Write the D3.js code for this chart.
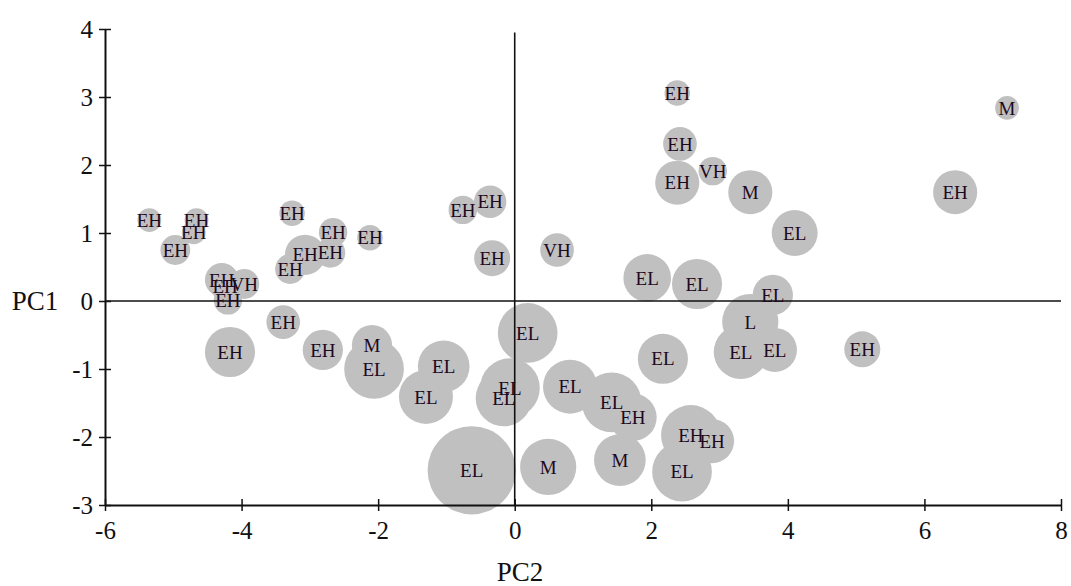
<!DOCTYPE html>
<html>
<head>
<meta charset="utf-8">
<script src="https://cdn.jsdelivr.net/npm/d3@7"></script>
<style>
  body { margin: 0; background: #fff; }
  svg text { font-family: "Liberation Serif", "Times New Roman", serif; }
</style>
</head>
<body>
<div id="chart-area"></div>
<script>
// group label of each sample
var groups = ['EH','EH','EH','EH','EH','EH','EH','EH','VH','EH',
	'EH','EH','EH','EH','EH','EH','EH','M','EL','EL',
	'EL','EL','EL','EL','EL','EH','EH','EH','VH','EL',
	'EL','EH','M','M','EH','EH','EL','EL','EL','EL',
	'L','EL','EL','EL','EL','EH','EH','M','EH','EH',
	'EH','VH','M'];
// PC2 scores (horizontal)
var pc2 = [-5.35,-4.66,-4.70,-4.97,-3.26,-2.66,-2.12,-4.29,-3.96,-4.24,
	-4.20,-3.29,-3.07,-2.70,-3.39,-4.17,-2.81,-2.09,-2.06,-1.04,
	-1.30,-0.63,-0.07,-0.16,0.19,-0.76,-0.36,-0.33,0.62,0.81,
	1.42,1.73,0.49,1.54,2.58,2.89,2.45,2.17,3.31,3.81,
	3.45,3.78,1.94,2.67,4.10,5.09,6.45,7.21,2.38,2.42,
	2.38,2.90,3.45];
// PC1 scores (vertical)
var pc1 = [1.19,1.19,1.01,0.75,1.29,1.01,0.93,0.31,0.25,0.21,
	0.01,0.47,0.68,0.71,-0.31,-0.75,-0.72,-0.65,-1.00,-0.96,
	-1.41,-2.49,-1.28,-1.43,-0.47,1.34,1.46,0.63,0.75,-1.26,
	-1.49,-1.71,-2.44,-2.34,-1.97,-2.06,-2.51,-0.85,-0.75,-0.72,
	-0.31,0.09,0.34,0.25,1.00,-0.71,1.60,2.84,3.06,2.31,
	1.74,1.91,1.60];
// bubble size
var sizes = [7,7,7,11,8,10,8,14,11,10,
	10,11,20,11,14,31,20,20,44,33,
	36,96,44,39,44,10,13,16,14,36,
	44,28,39,33,44,24,44,31,36,24,
	39,20,28,31,26,16,24,7,8,14,
	24,10,24];

var xTicks = [-6,-4,-2,0,2,4,6,8];
var yTicks = [-3,-2,-1,0,1,2,3,4];

var width = 1071;
var height = 586;

var svg = d3.select('#chart-area')
	.append('svg')
	.attr('width', width)
	.attr('height', height);

var x = d3.scaleLinear().domain([-6, 8]).range([105, 1061]);
var y = d3.scaleLinear().domain([-3, 4]).range([505, 29]);
var r = d3.scaleSqrt().domain([0, 100]).range([0, 45]);

var data = groups.map((g, i) => ({ g: g, x: pc2[i], y: pc1[i], s: sizes[i] }));

// bubbles
svg.append('g')
	.selectAll('circle')
	.data(data)
	.enter()
		.append('circle')
		.attr('cx', d => x(d.x))
		.attr('cy', d => y(d.y))
		.attr('r', d => r(d.s))
		.attr('fill', '#c0c0c0');

// zero lines
svg.append('line')
	.attr('x1', x(0)).attr('x2', x(0))
	.attr('y1', y(3.95)).attr('y2', y(-3))
	.attr('stroke', '#111').attr('stroke-width', 1.6);
svg.append('line')
	.attr('x1', x(-6)).attr('x2', x(8))
	.attr('y1', y(0)).attr('y2', y(0))
	.attr('stroke', '#111').attr('stroke-width', 1.6);

// labels
svg.append('g')
	.selectAll('text')
	.data(data)
	.enter()
		.append('text')
		.attr('x', d => x(d.x))
		.attr('y', d => y(d.y))
		.attr('dy', '0.35em')
		.attr('text-anchor', 'middle')
		.attr('font-size', 19)
		.attr('fill', '#1e0820')
		.text(d => d.g);

// axes
var fmt = d => String(d);

var xAxis = d3.axisBottom(x).tickValues(xTicks).tickFormat(fmt).tickSize(6).tickSizeOuter(0).tickPadding(10);
var gx = svg.append('g')
	.attr('transform', 'translate(0,' + y(-3) + ')')
	.call(xAxis);
gx.select('.domain').attr('stroke', '#111').attr('stroke-width', 2);
gx.selectAll('.tick line').attr('y1', -6).attr('stroke', '#111').attr('stroke-width', 1.5);
gx.selectAll('text').attr('font-size', 25).attr('fill', '#111');

var yAxis = d3.axisLeft(y).tickValues(yTicks).tickFormat(fmt).tickSize(6).tickSizeOuter(0).tickPadding(6);
var gy = svg.append('g')
	.attr('transform', 'translate(' + x(-6) + ',0)')
	.call(yAxis);
gy.select('.domain').attr('stroke', '#111').attr('stroke-width', 2);
gy.selectAll('.tick line').attr('x1', 6).attr('stroke', '#111').attr('stroke-width', 1.5);
gy.selectAll('text').attr('font-size', 25).attr('fill', '#111');

// axis titles
svg.append('text')
	.attr('x', 35).attr('y', y(0))
	.attr('dy', '0.35em')
	.attr('text-anchor', 'middle')
	.attr('font-size', 27)
	.attr('fill', '#111')
	.text('PC1');

svg.append('text')
	.attr('x', 520).attr('y', 581)
	.attr('text-anchor', 'middle')
	.attr('font-size', 27)
	.attr('fill', '#111')
	.text('PC2');
</script>
</body>
</html>
